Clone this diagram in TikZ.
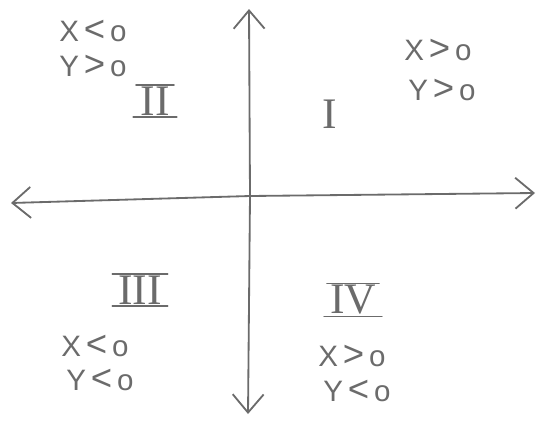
\documentclass[tikz,border=0pt]{standalone}
\usepackage{fontspec}
\setmainfont{Liberation Sans}
\newfontfamily\numfont{Liberation Serif}
\usetikzlibrary{arrows.meta}
\definecolor{pencil}{gray}{0.42}
\newcommand{\cmpless}{\,\smash{\fontsize{26}{26}\selectfont\raisebox{-0.5pt}{<}}\,}
\newcommand{\cmpmore}{\,\smash{\fontsize{26}{26}\selectfont\raisebox{-0.5pt}{>}}\,}
\tikzset{
  axis/.style={draw=pencil, line width=1.3pt, line cap=round,
    -{Straight Barb[length=13pt,width=22pt,line width=1.3pt]}},
  cond/.style={text=pencil, font=\fontsize{21}{23}\selectfont, inner sep=0pt},
  roman/.style={text=pencil, font=\numfont\fontsize{31}{33}\selectfont, inner sep=1pt},
  bar/.style={draw=pencil, line width=1.1pt, line cap=round}
}
\begin{document}
\begin{tikzpicture}[x=0.025cm, y=-0.025cm]
\useasboundingbox (0,0) rectangle (538,422);
\coordinate (o) at (250,196);
\coordinate (top) at (249,9);
\coordinate (bot) at (248,414);
\coordinate (lft) at (11,203);
\coordinate (rgt) at (535,193);
\draw[axis] (o) -- (top);
\draw[axis] (o) -- (bot);
\draw[axis] (o) -- (lft);
\draw[axis] (o) -- (rgt);
% quadrant II
\node[cond] (q2x) at (93,31) {X\cmpless o};
\node[cond] (q2y) at (93,66) {Y\cmpmore o};
\node[roman] (n2) at (155,101) {II};
\draw[bar] ([xshift=-2pt]n2.north west) -- ([xshift=2pt]n2.north east);
\draw[bar] ([xshift=-4pt]n2.south west) -- ([xshift=4pt]n2.south east);
% quadrant I
\node[roman] (n1) at (330,114) {I};
\node[cond] (q1x) at (438,50) {X\cmpmore o};
\node[cond] (q1y) at (442,90) {Y\cmpmore o};
% quadrant III
\node[roman] (n3) at (140,290) {III};
\draw[bar] ([xshift=-3pt]n3.north west) -- ([xshift=3pt]n3.north east);
\draw[bar] ([xshift=-3pt]n3.south west) -- ([xshift=3pt]n3.south east);
\node[cond] (q3x) at (95,346) {X\cmpless o};
\node[cond] (q3y) at (100,380) {Y\cmpless o};
% quadrant IV
\node[roman] (n4) at (353,300) {IV};
\draw[bar] ([xshift=-1pt]n4.north west) -- ([xshift=1pt]n4.north east);
\draw[bar] ([xshift=-3pt]n4.south west) -- ([xshift=3pt]n4.south east);
\node[cond] (q4x) at (352,356) {X\cmpmore o};
\node[cond] (q4y) at (357,391) {Y\cmpless o};
\end{tikzpicture}
\end{document}
